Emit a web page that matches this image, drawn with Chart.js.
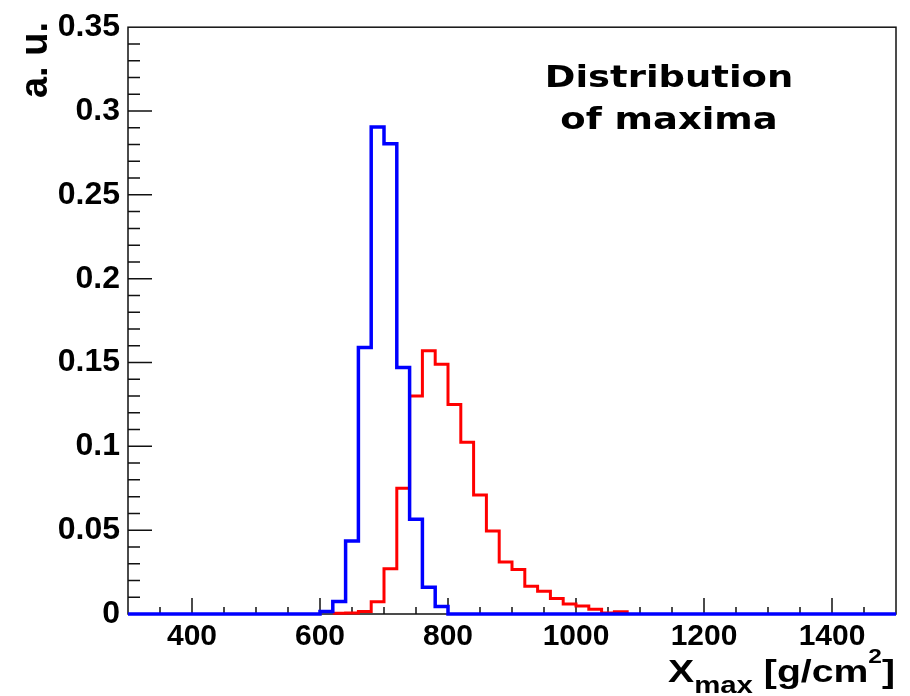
<!DOCTYPE html>
<html>
<head>
<meta charset="utf-8">
<script src="https://cdn.jsdelivr.net/npm/chart.js@4.4.1/dist/chart.umd.min.js"></script>
<style>
  html, body { margin: 0; padding: 0; background: #fff; }
  #wrap { width: 910px; height: 696px; }
</style>
</head>
<body>
<div id="wrap"><canvas id="xmax"></canvas></div>
<script>
// histogram binning: 60 bins of 20 g/cm2 from 300 to 1500
const binStart = 300;
const binWidth = 20;

// blue histogram (one value per bin)
const blueValues = [
  0, 0, 0, 0, 0, 0, 0, 0, 0, 0,            // 300-500
  0, 0, 0, 0, 0, 0.0015, 0.0075, 0.0436, 0.159, 0.2905, // 500-700
  0.2805, 0.147, 0.0565, 0.016, 0.0045, 0, 0, 0, 0, 0,  // 700-900
  0, 0, 0, 0, 0, 0, 0, 0, 0, 0,            // 900-1100
  0, 0, 0, 0, 0, 0, 0, 0, 0, 0,            // 1100-1300
  0, 0, 0, 0, 0, 0, 0, 0, 0, 0             // 1300-1500
];

// red histogram (null = not drawn, hidden under the blue baseline anyway)
const redValues = [
  null, null, null, null, null, null, null, null, null, null,
  null, null, null, null, null, null, 0.0004, 0.0006, 0.0015, 0.0073,
  0.027, 0.075, 0.130, 0.157, 0.149, 0.125, 0.1025, 0.071, 0.0495, 0.031,
  0.0265, 0.0165, 0.0136, 0.0092, 0.0059, 0.0047, 0.0028, 0.0006, 0.0014, 0,
  null, null, null, null, null, null, null, null, null, null,
  null, null, null, null, null, null, null, null, null, null
];

const xTicks = [400, 600, 800, 1000, 1200, 1400];
const yTicks = [0, 0.05, 0.1, 0.15, 0.2, 0.25, 0.3, 0.35];

// points at left bin edges, plus a closing point at the last right edge
function toSteps(values) {
  const pts = values.map((v, i) => ({ x: binStart + i * binWidth, y: v }));
  pts.push({ x: binStart + values.length * binWidth, y: values[values.length - 1] });
  return pts;
}

// frame + inward ticks (ROOT style), drawn under the histograms
const framePlugin = {
  id: 'frame',
  beforeDatasetsDraw(chart) {
    const { ctx, chartArea: a, scales: { x, y } } = chart;
    ctx.save();
    ctx.strokeStyle = '#111';
    ctx.lineWidth = 1.5;
    ctx.strokeRect(a.left, a.top, a.right - a.left, a.bottom - a.top);
    ctx.beginPath();
    for (let v = 350; v < 1500; v += 50) {
      const px = x.getPixelForValue(v);
      const len = v % 200 === 0 ? 16 : 7;
      ctx.moveTo(px, a.bottom);
      ctx.lineTo(px, a.bottom - len);
    }
    for (let k = 1; k < 35; k++) {
      const py = y.getPixelForValue(k / 100);
      const len = k % 5 === 0 ? 24 : 12;
      ctx.moveTo(a.left, py);
      ctx.lineTo(a.left + len, py);
    }
    ctx.stroke();
    ctx.restore();
  },
  afterDraw(chart) {
    const ctx = chart.ctx;
    ctx.save();
    ctx.fillStyle = '#000';

    // annotation
    ctx.font = 'bold 30px "DejaVu Sans"';
    ctx.textAlign = 'center';
    ctx.textBaseline = 'alphabetic';
    [['Distribution', 87], ['of maxima', 129]].forEach(([t, by]) => {
      ctx.save();
      ctx.translate(669, by);
      ctx.scale(1.23, 1);
      ctx.fillText(t, 0, 0);
      ctx.restore();
    });

    // y title
    ctx.save();
    ctx.font = 'bold 38px "Liberation Sans"';
    ctx.translate(47, 22);
    ctx.rotate(-Math.PI / 2);
    ctx.textAlign = 'right';
    ctx.fillText('a. u.', 0, 0);
    ctx.restore();

    // x title with sub/superscript
    const parts = [
      { t: 'X', size: 32, dy: 0 },
      { t: 'max', size: 24, dy: 11 },
      { t: ' [g/cm', size: 32, dy: 0 },
      { t: '2', size: 20, dy: -19 },
      { t: ']', size: 32, dy: 0 }
    ];
    let total = 0;
    parts.forEach(p => {
      ctx.font = 'bold ' + p.size + 'px "Liberation Sans"';
      p.w = ctx.measureText(p.t).width;
      total += p.w;
    });
    const sx = 227 / total;
    ctx.save();
    ctx.translate(895 - total * sx, 682);
    ctx.scale(sx, 1);
    ctx.textAlign = 'left';
    let cx = 0;
    parts.forEach(p => {
      ctx.font = 'bold ' + p.size + 'px "Liberation Sans"';
      ctx.fillText(p.t, cx, p.dy);
      cx += p.w;
    });
    ctx.restore();

    ctx.restore();
  }
};

const ctx = document.getElementById('xmax').getContext('2d');

const chart = new Chart(ctx, {
  type: 'line',
  data: {
    datasets: [
      {
        label: 'blue',
        data: toSteps(blueValues),
        borderColor: '#0000ff',
        borderWidth: 3.5,
        stepped: true,
        pointRadius: 0,
        fill: false,
        clip: 6
      },
      {
        label: 'red',
        data: toSteps(redValues),
        borderColor: '#ff0000',
        borderWidth: 3,
        stepped: true,
        pointRadius: 0,
        fill: false,
        clip: 6
      }
    ]
  },
  options: {
    responsive: true,
    maintainAspectRatio: false,
    animation: false,
    layout: { padding: { left: 0, right: 14, top: 20, bottom: 0 } },
    plugins: {
      legend: { display: false },
      tooltip: { enabled: false }
    },
    scales: {
      x: {
        type: 'linear',
        min: 300,
        max: 1500,
        grid: { display: false, drawTicks: false },
        border: { display: false },
        afterBuildTicks: s => { s.ticks = xTicks.map(v => ({ value: v })); },
        afterFit: s => { s.height = 82; },
        ticks: {
          autoSkip: false,
          maxRotation: 0,
          padding: 5,
          color: '#000',
          font: { family: 'Liberation Sans', weight: 'bold', size: 30 },
          callback: v => String(v)
        }
      },
      y: {
        min: 0,
        max: 0.35,
        grid: { display: false, drawTicks: false },
        border: { display: false },
        afterBuildTicks: s => { s.ticks = yTicks.map(v => ({ value: v })); },
        afterFit: s => { s.width = 128; },
        ticks: {
          autoSkip: false,
          padding: 8,
          color: '#000',
          font: { family: 'Liberation Sans', weight: 'bold', size: 32 },
          callback: v => (v === 0 ? '0' : String(+v.toFixed(2)))
        }
      }
    }
  },
  plugins: [framePlugin]
});
</script>
</body>
</html>
